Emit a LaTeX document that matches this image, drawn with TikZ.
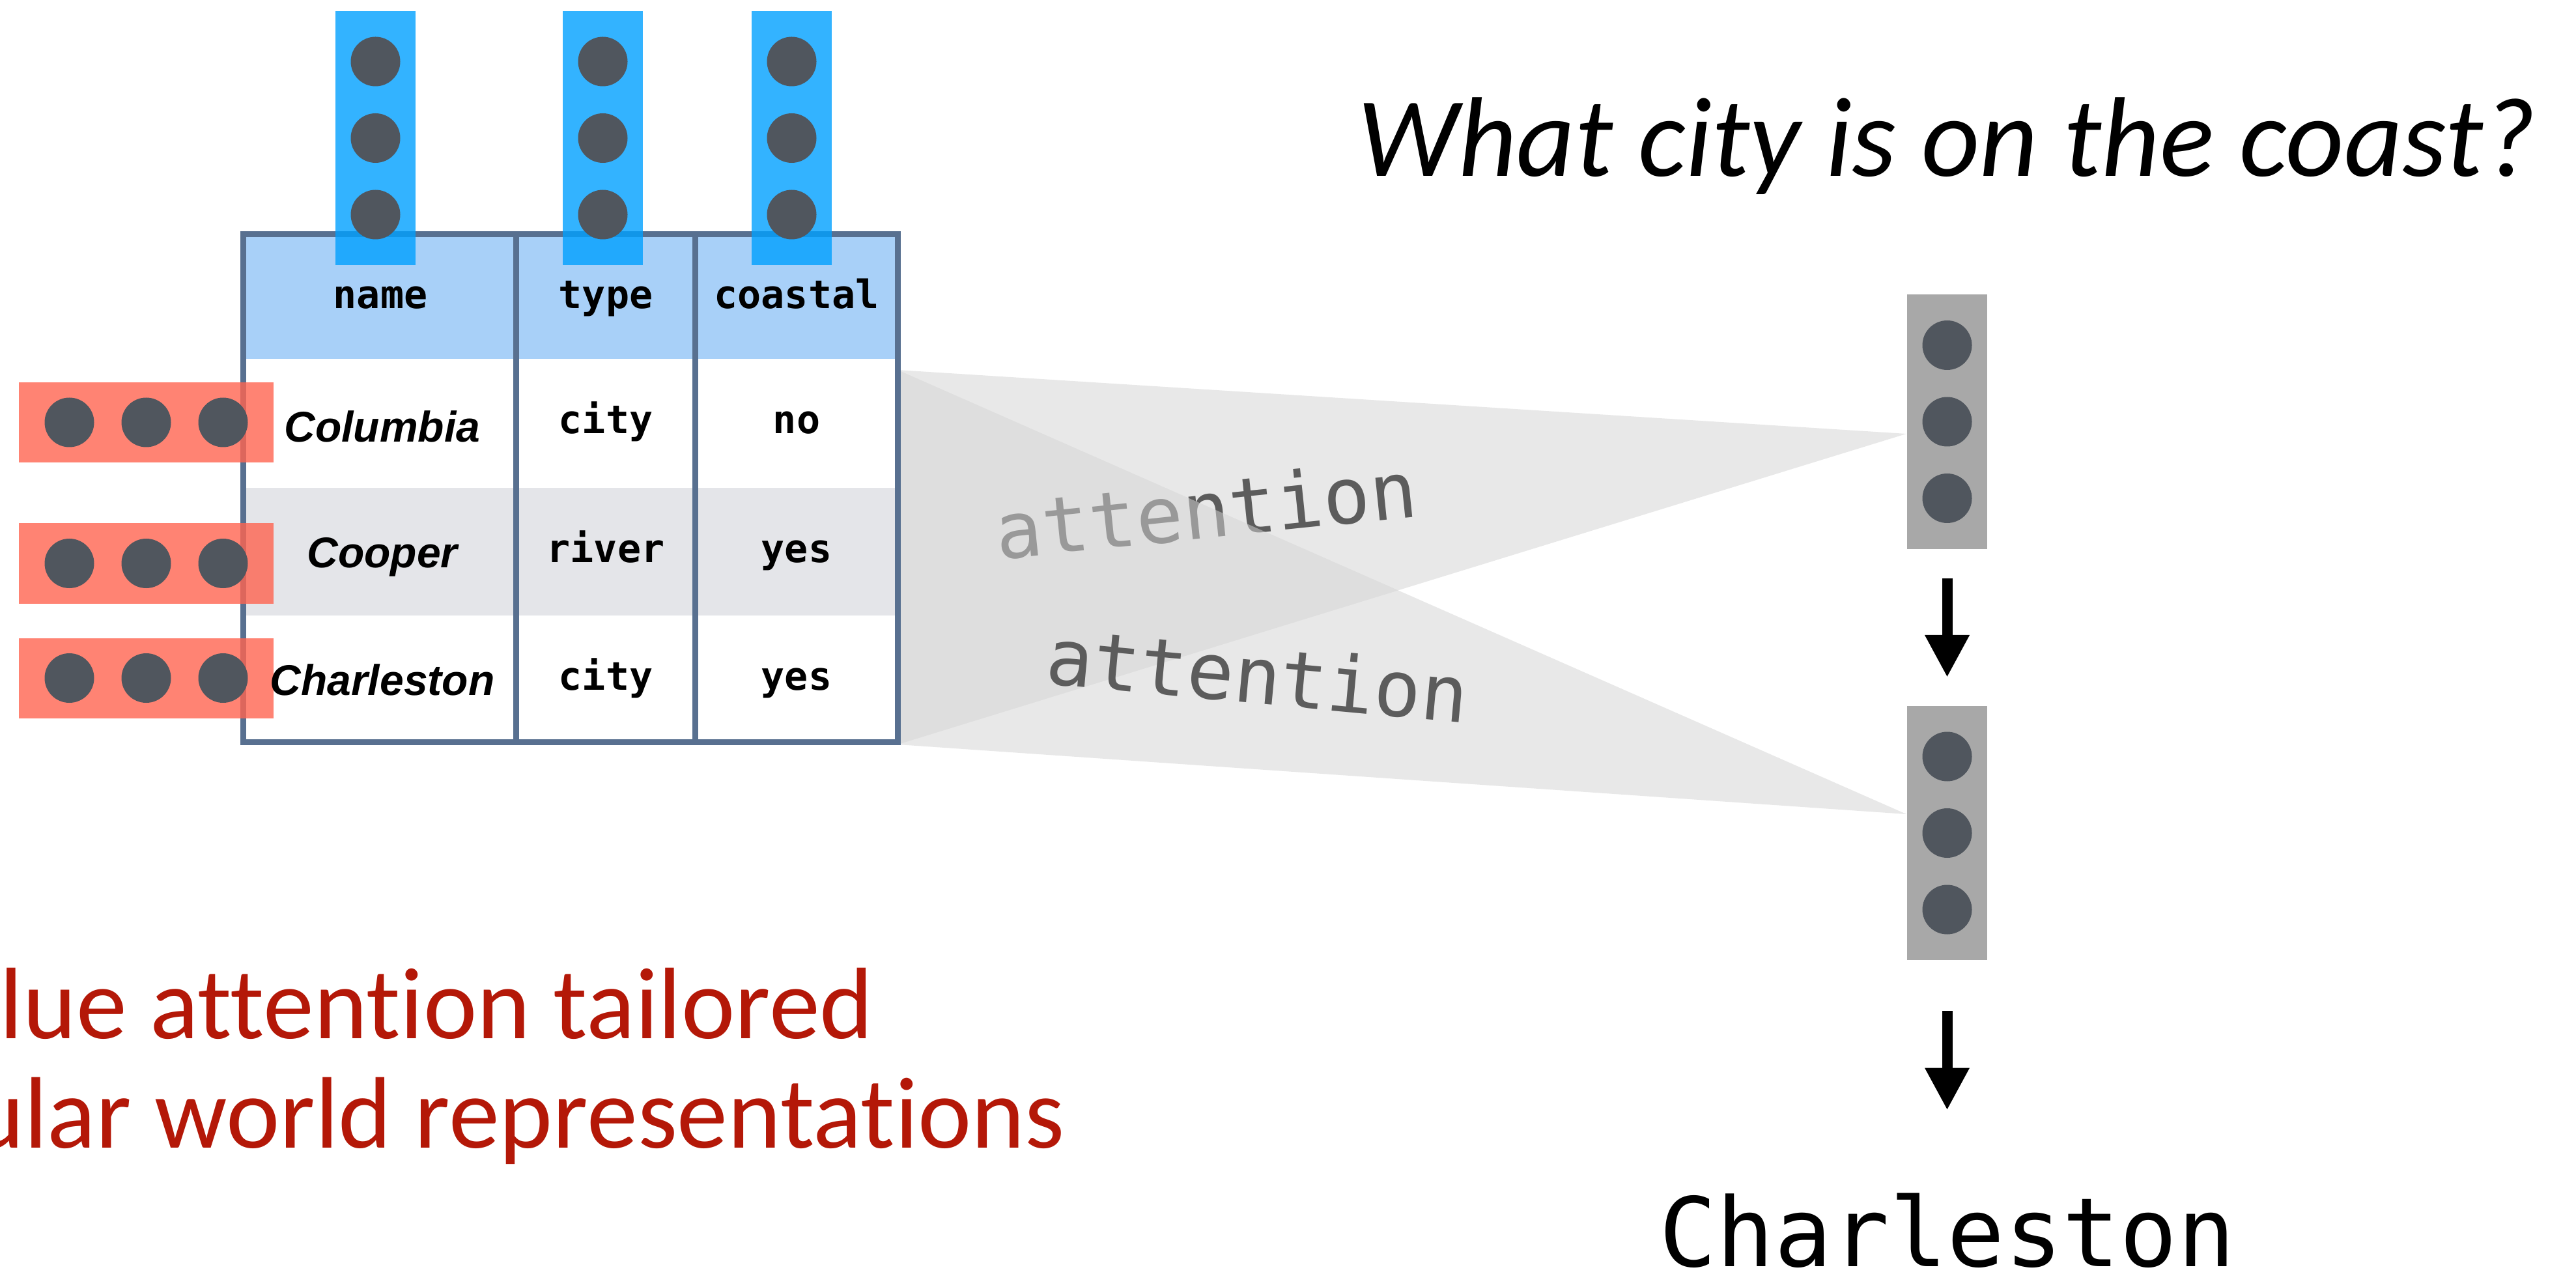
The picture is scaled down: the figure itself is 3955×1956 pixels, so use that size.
\documentclass[tikz,border=0pt]{standalone}
\usepackage{fontspec}
\setmainfont{Carlito}[Ligatures=NoCommon]
\newfontfamily\monof{DejaVu Sans Mono}
\newfontfamily\rowf{Liberation Sans}
\usetikzlibrary{arrows.meta,calc}
\definecolor{tblline}{RGB}{88,112,144}
\definecolor{hdrfill}{RGB}{168,208,248}
\definecolor{rowgray}{RGB}{228,229,233}
\definecolor{bluebarc}{RGB}{0,160,255}
\definecolor{redbarc}{RGB}{255,100,80}
\definecolor{dotc}{RGB}{80,86,94}
\definecolor{vecgray}{RGB}{168,168,168}
\definecolor{attfill}{RGB}{214,214,214}
\definecolor{attoverlap}{RGB}{222,222,222}
\definecolor{atttext}{RGB}{92,92,92}
\definecolor{redtext}{RGB}{180,24,8}
\tikzset{
  dotnode/.style={circle, fill=dotc, minimum size=15.2pt, inner sep=0pt},
  colvec/.style={fill=bluebarc, fill opacity=0.8, minimum width=24.6pt, minimum height=78pt, inner sep=0pt},
  rowvec/.style={fill=redbarc, fill opacity=0.8, minimum width=78.2pt, minimum height=24.6pt, inner sep=0pt},
  outvec/.style={fill=vecgray, minimum width=24.6pt, minimum height=78pt, inner sep=0pt},
  hdrtext/.style={font=\monof\bfseries\fontsize{12pt}{14pt}\selectfont, anchor=base, inner sep=0pt},
  celltext/.style={font=\monof\bfseries\fontsize{12pt}{14pt}\selectfont, anchor=base, inner sep=0pt},
  rowtext/.style={font=\rowf\bfseries\itshape\fontsize{13.2pt}{15pt}\selectfont, anchor=base, inner sep=0pt},
  atttxt/.style={font=\monof\fontsize{24pt}{28pt}\selectfont, text=atttext, anchor=base, inner sep=0pt},
  attarea/.style={fill=attfill, fill opacity=0.565},
  flowarrow/.style={line width=3.2pt, -{Triangle[length=13pt,width=12.8pt]}},
  tblborder/.style={draw=tblline, line width=1.8pt},
  redcap/.style={font=\fontsize{31.2pt}{36pt}\selectfont, text=redtext, anchor=base east, inner sep=0pt},
}
\begin{document}
\begin{tikzpicture}[x=0.2pt,y=-0.2pt]
\useasboundingbox (0,0) rectangle (3955,1956);

% geometry nodes
\path node[minimum width=200.4pt, minimum height=155.4pt, inner sep=0pt] (tbl) at (876,749.5) {};
\node[outvec] (g1) at (2989.5,647.5) {};
\node[outvec] (g2) at (2989.5,1279) {};
\foreach \k/\dy in {1/-117.5,2/0,3/117.5} {
  \node[dotnode] (g1-\k) at ($(g1)+(0,\dy)$) {};
  \node[dotnode] (g2-\k) at ($(g2)+(0,\dy)$) {};
}

% attention areas
\coordinate (P) at ($(tbl.north east)+(0,208)$);
\coordinate (B) at ($(tbl.south east)+(0,4)$);
\coordinate (A1) at ($(g1.west)+(0,18.5)$);
\coordinate (A2) at ($(g2.west)+(0,-29)$);
\fill[attarea] (P) -- (A1) -- (B) -- cycle;
\fill[attarea] (P) -- (A2) -- (B) -- cycle;

\node[atttxt, rotate=5.9] (att1) at (1856,826) {attention};
\fill[attoverlap, blend mode=lighten, opacity=0.47]
  (P) -- (intersection of P--A2 and B--A1) -- (B) -- cycle;
\node[atttxt, rotate=-5.3] (att2) at (1927,1080) {attention};

% table
\fill[hdrfill] (tbl.north west) rectangle ($(tbl.north east)+(0,191)$);
\fill[rowgray] ($(tbl.north west)+(0,389)$) rectangle ($(tbl.north east)+(0,585)$);
\draw[tblborder] ($(tbl.north west)+(418,0)$) -- ($(tbl.south west)+(418,0)$);
\draw[tblborder] ($(tbl.north west)+(693,0)$) -- ($(tbl.south west)+(693,0)$);
\draw[tblborder] (tbl.north west) rectangle (tbl.south east);

% column vectors
\foreach \n/\x in {name/576.5,type/925.5,coastal/1215.5} {
  \node[colvec] (c-\n) at (\x,212) {};
  \foreach \k/\dy in {1/-117.5,2/0,3/117.5}
    \node[dotnode] (c-\n-\k) at ($(c-\n)+(0,\dy)$) {};
}
% row vectors
\foreach \k/\y in {1/648.5,2/865,3/1041} {
  \node[rowvec] (r-\k) at (224.5,\y) {};
  \foreach \j/\dx in {1/-118,2/0,3/118}
    \node[dotnode] (r-\k-\j) at ($(r-\k)+(\dx,0)$) {};
}

% table texts
\node[hdrtext] (h1) at (584,474) {name};
\node[hdrtext] (h2) at (930,474) {type};
\node[hdrtext] (h3) at (1223,474) {coastal};
\node[rowtext] (n1) at (587,679) {Columbia};
\node[rowtext] (n2) at (587,872) {Cooper};
\node[rowtext] (n3) at (587,1067) {Charleston};
\node[celltext] (t1) at (930,666) {city};
\node[celltext] (t2) at (930,864) {river};
\node[celltext] (t3) at (930,1059) {city};
\node[celltext] (v1) at (1223,666) {no};
\node[celltext] (v2) at (1223,864) {yes};
\node[celltext] (v3) at (1223,1059) {yes};

% output
\node[font=\monof\fontsize{29.4pt}{34pt}\selectfont, anchor=base, inner sep=0pt] (ans) at (2989.5,1944) {Charleston};
\draw[flowarrow, shorten <=8.8pt, shorten >=8.6pt] (g1.south) -- (g2.north);
\draw[flowarrow, shorten <=15.4pt, shorten >=25.2pt] (g2.south) -- (ans.north);

% title and caption
\node[font=\itshape\fontsize{34.8pt}{42pt}\selectfont, anchor=base, inner sep=0pt] (title) at (2989,271) {What city is on the coast?};
\node[redcap] (red1) at (1342,1594) {lue attent\kern0pt ion tailored};
\node[redcap] (red2) at (1636,1762) {ular world representat\kern0pt ions};
\end{tikzpicture}
\end{document}
